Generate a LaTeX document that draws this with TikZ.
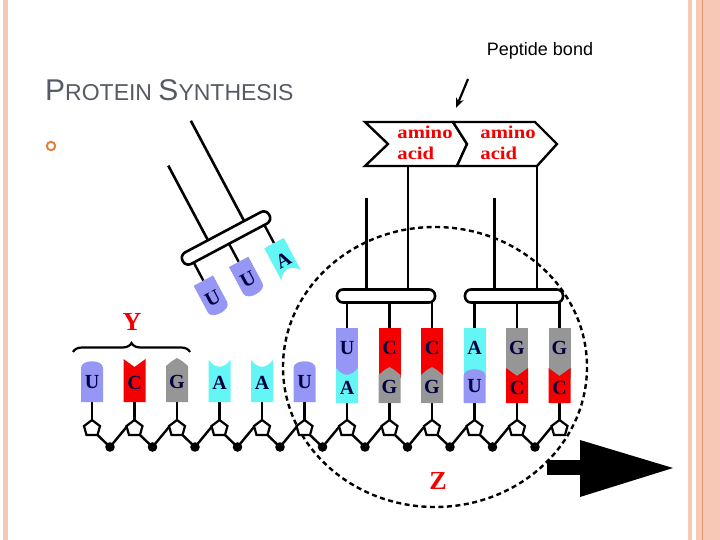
\documentclass[tikz,border=0pt]{standalone}
\usepackage{fontspec}
\setmainfont{Liberation Serif}
\newfontfamily\sans{Liberation Sans}
\newfontfamily\wideserif{Liberation Serif}[FakeStretch=1.15]
\usetikzlibrary{calc,decorations.pathreplacing,arrows.meta,positioning}
\definecolor{colU}{RGB}{150,150,245}
\definecolor{colC}{RGB}{245,0,0}
\definecolor{colG}{RGB}{150,150,150}
\definecolor{colA}{RGB}{100,245,245}
\definecolor{slide}{RGB}{248,200,182}
\definecolor{slideline}{RGB}{228,150,110}
\definecolor{titlegray}{RGB}{85,90,100}
\definecolor{bullet}{RGB}{225,130,60}
% bases: #1 x, #2 shaped edge, #3 flat edge, #4 +1 shape on top / -1 shape at bottom
\newcommand{\baseU}[4]{\fill[colU] (#1-11,#3) -- (#1-11,{#2+(#4)*8}) .. controls (#1-11,{#2-(#4)*1}) and (#1+11,{#2-(#4)*1}) .. (#1+11,{#2+(#4)*8}) -- (#1+11,#3) -- cycle;
  \node[lett] at (#1,{(#2+#3)/2+1}) {U};}
\newcommand{\baseC}[4]{\fill[colC] (#1-11,#3) -- (#1-11,#2) -- (#1,{#2+(#4)*8}) -- (#1+11,#2) -- (#1+11,#3) -- cycle;
  \node[lett] at (#1,{(#2+#3)/2+2}) {C};}
\newcommand{\baseG}[4]{\fill[colG] (#1-11,#3) -- (#1-11,{#2+(#4)*7}) -- (#1-5,{#2+(#4)*2}) -- (#1,{#2-(#4)*1}) -- (#1+5,{#2+(#4)*2}) -- (#1+11,{#2+(#4)*7}) -- (#1+11,#3) -- cycle;
  \node[lett] at (#1,{(#2+#3)/2+1}) {G};}
\newcommand{\baseA}[4]{\fill[colA] (#1-11,#3) -- (#1-11,#2) .. controls (#1-4,{#2+(#4)*9}) and (#1+4,{#2+(#4)*9}) .. (#1+11,#2) -- (#1+11,#3) -- cycle;
  \node[lett] at (#1,{(#2+#3)/2+2}) {A};}
\newcommand{\upbase}[3]{\fill[#2] (#1-11,328) rectangle (#1+11,378); \node[lett] at (#1,348) {#3};}

\begin{document}
\begin{tikzpicture}[x=1pt,y=-1pt,
  lett/.style={font=\bfseries\fontsize{20}{20}\selectfont,text=black!75!blue,inner sep=0pt},
  holder/.style={draw,line width=2.6pt,rounded corners=6pt,fill=white,minimum width=98pt,minimum height=13pt,inner sep=0pt},
  amino/.style={font=\wideserif\bfseries\fontsize{18}{21}\selectfont,text=colC,align=left,inner sep=0pt},
  sugar/.style={line width=2.2pt},
  stem/.style={line width=2.4pt},
  redlab/.style={font=\bfseries\fontsize{26}{26}\selectfont,text=colC}]
\useasboundingbox (0,0) rectangle (720,540);
% slide frame
\fill[slide] (3,0) rectangle (8,540);
\fill[slide] (688,0) rectangle (692,540);
\fill[slide] (696,0) rectangle (720,540);
\draw[slideline,line width=1pt] (702,0) -- (702,540);
% title
\node[anchor=base west,text=titlegray,inner sep=0pt] (title) at (45,101)
  {\sans\fontsize{30}{30}\selectfont P\fontsize{23}{23}\selectfont ROTEIN \fontsize{30}{30}\selectfont S\fontsize{23}{23}\selectfont YNTHESIS};
\draw[bullet,line width=2pt] (51,146) circle (4.2);
\node[font=\sans\fontsize{18}{18}\selectfont,inner sep=0pt] (pb) at (540,51) {Peptide bond};
\coordinate (pbend) at (456,108);
\draw[-{Stealth[length=10pt,width=8pt]},line width=2.2pt] (468,79) -- (pbend);
% dashed circle
\draw[line width=2.4pt,dash pattern=on 5pt off 3.5pt] (435,367) ellipse (152 and 140);
% backbone
\foreach \i in {0,...,11}{
  \pgfmathsetmacro{\bx}{92+42.5*\i}
  \draw[stem] (\bx,402) -- (\bx,420);
  \draw[sugar,fill=white] (\bx,420) -- (\bx+8,426) -- (\bx+5.5,435) -- (\bx-5.5,435) -- (\bx-8,426) -- cycle;
}
\foreach \i in {0,...,10}{
  \pgfmathsetmacro{\bx}{92+42.5*\i}
  \draw[line width=2.4pt] (\bx+5.5,435) -- (\bx+18,447) -- (\bx+42.5-8,427);
  \fill (\bx+18,447) circle (4.8);
}
% mRNA bases
\baseU{92}{360}{402}{1}
\baseC{134.5}{359}{402}{1}
\baseG{177}{359}{402}{1}
\baseA{219.5}{360}{402}{1}
\baseA{262}{360}{402}{1}
\baseU{304.5}{360}{402}{1}
\upbase{347}{colU}{U}
\upbase{389.5}{colC}{C}
\upbase{432}{colC}{C}
\upbase{474.5}{colA}{A}
\upbase{517}{colG}{G}
\upbase{559.5}{colG}{G}
\baseA{347}{368}{403}{1}
\baseG{389.5}{368}{403}{1}
\baseG{432}{368}{403}{1}
\baseU{474.5}{368}{403}{1}
\baseC{517}{368}{403}{1}
\baseC{559.5}{368}{403}{1}
% brace and labels
\draw[decorate,decoration={brace,amplitude=9pt},line width=2.2pt] (73,352) -- (190,352);
\node[redlab] (Y) at (132,322) {Y};
\node[redlab] (Z) at (438,481) {Z};
% bound tRNAs
\foreach \x in {347,389.5,432}{ \draw[stem] (\x,302) -- (\x,328); }
\foreach \x in {474.5,517,559.5}{ \draw[stem] (\x,302) -- (\x,328); }
\draw[line width=3pt] (366,198) -- (366,290);
\draw[line width=3pt] (494,198) -- (494,290);
\draw[line width=2.2pt] (408,166) -- (408,290);
\draw[line width=2.2pt] (537,166) -- (537,290);
\node[holder] (h1) at (386,296) {};
\node[holder] (h2) at (514,296) {};
% amino acids
\draw[line width=2.4pt,fill=white] (365,122) -- (453,122) -- (467,144) -- (457,166) -- (365,166) -- (388,144) -- cycle;
\draw[line width=2.4pt,fill=white] (453,122) -- (535,122) -- (557,144) -- (537,166) -- (457,166) -- (467,144) -- cycle;
\node[amino] (aa1) at (425,143) {amino\\acid};
\node[amino] (aa2) at (508,143) {amino\\acid};
% free tRNA
\begin{scope}[shift={(226,238)},rotate=28,transform shape]
  \draw[line width=2.6pt] (-17,-6) -- (-17,-91);
  \draw[line width=2.6pt] (24,-6) -- (24,-120);
  \foreach \u in {-40,0,40}{ \draw[stem] (\u,6) -- (\u,27); }
  \node[holder] (h0) at (0,0) {};
  \baseU{-40}{65}{27}{-1}
  \baseU{0}{65}{27}{-1}
  \baseA{40}{63}{27}{-1}
\end{scope}
% big arrow
\fill (547,460) rectangle (585,475);
\fill (580,440) -- (673,468) -- (580,497) -- cycle;
\end{tikzpicture}
\end{document}
